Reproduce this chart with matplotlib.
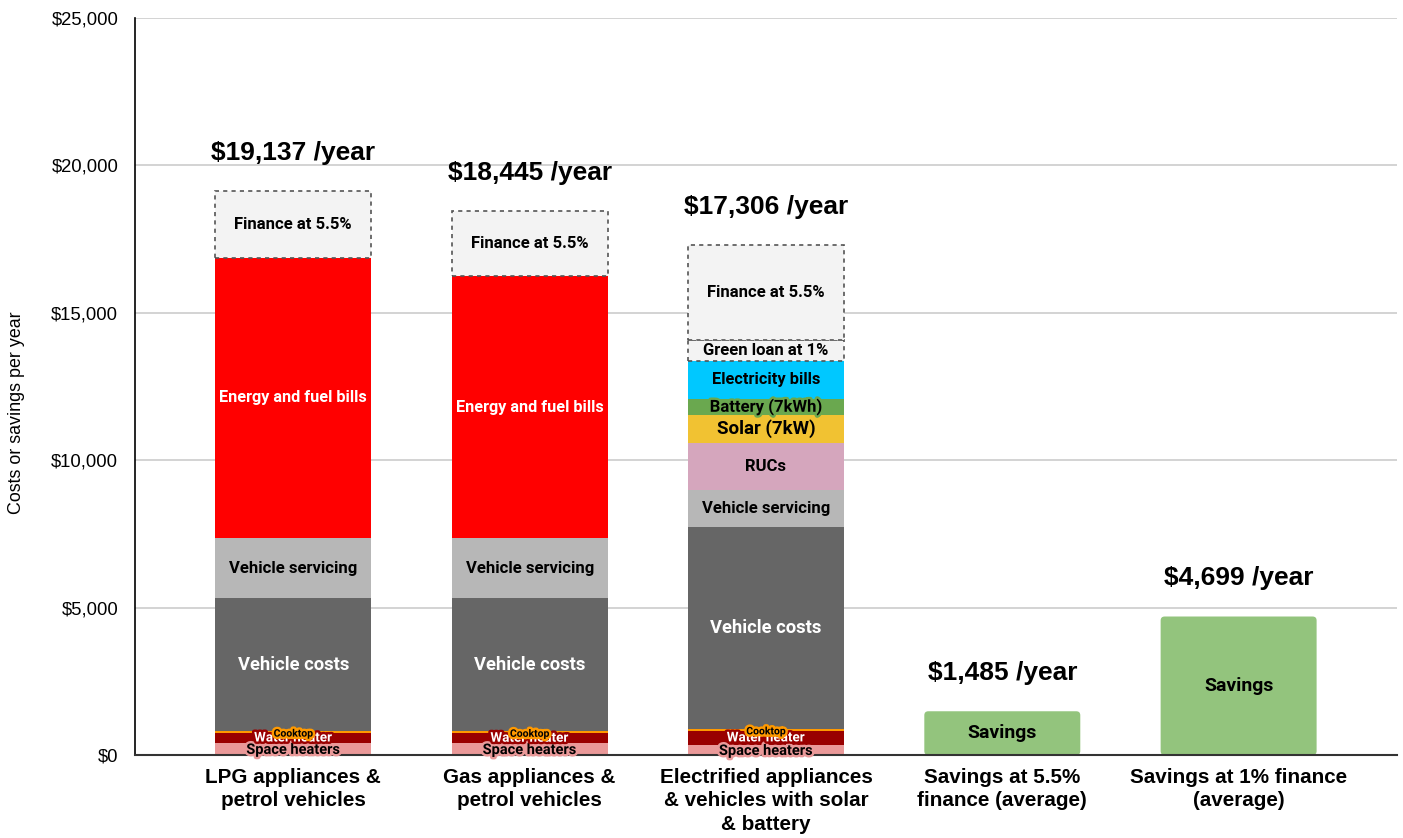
import numpy as np
import matplotlib
matplotlib.use('Agg')
import matplotlib.pyplot as plt
import matplotlib.patheffects as pe
from matplotlib.patches import FancyBboxPatch

plt.rcParams['font.family'] = ['Liberation Sans', 'DejaVu Sans']

categories = ['LPG appliances &\npetrol vehicles',
              'Gas appliances &\npetrol vehicles',
              'Electrified appliances\n& vehicles with solar\n& battery',
              'Savings at 5.5%\nfinance (average)',
              'Savings at 1% finance\n(average)']

# stacked segments, bottom to top
lpg_labels = ['Space heaters', 'Water heater', 'Cooktop', 'Vehicle costs',
              'Vehicle servicing', 'Energy and fuel bills', 'Finance at 5.5%']
lpg_values = [410, 336, 60, 4509, 2056, 9498, 2268]
gas_labels = lpg_labels
gas_values = [400, 340, 60, 4515, 2056, 8867, 2207]
elec_labels = ['Space heaters', 'Water heater', 'Cooktop', 'Vehicle costs',
               'Vehicle servicing', 'RUCs', 'Solar (7kW)', 'Battery (7kWh)',
               'Electricity bills', 'Green loan at 1%', 'Finance at 5.5%']
elec_values = [339, 485, 58, 6862, 1245, 1594, 950, 543, 1299, 702, 3229]
savings_labels = ['Savings', 'Savings']
savings_values = [1485, 4699]
totals = [19137, 18445, 17306, 1485, 4699]

# colour, text colour, font size, outline colour, dashed
seg_style = {
    'Space heaters': ('#ea9999', 'black', 10.5, '#ea9999', False),
    'Water heater': ('#990000', 'white', 9.7, '#990000', False),
    'Cooktop': ('#ff9900', 'black', 7.5, '#ff9900', False),
    'Vehicle costs': ('#666666', 'white', 13.2, None, False),
    'Vehicle servicing': ('#b7b7b7', 'black', 12, None, False),
    'Energy and fuel bills': ('#ff0000', 'white', 11.7, None, False),
    'Finance at 5.5%': ('#f3f3f3', 'black', 12, None, True),
    'RUCs': ('#d5a6bd', 'black', 12, None, False),
    'Solar (7kW)': ('#f1c232', 'black', 13.5, None, False),
    'Battery (7kWh)': ('#6aa84f', 'black', 12, '#6aa84f', False),
    'Electricity bills': ('#00c8ff', 'black', 11.8, None, False),
    'Green loan at 1%': ('#f3f3f3', 'black', 12, None, True),
    'Savings': ('#93c47d', 'black', 14, None, False),
}
# small nudges for the crowded labels at the bottom
label_shift = {'Space heaters': -30, 'Water heater': 0, 'Cooktop': -50}

stacks = [(lpg_labels, lpg_values), (gas_labels, gas_values),
          (elec_labels, elec_values),
          ([savings_labels[0]], [savings_values[0]]),
          ([savings_labels[1]], [savings_values[1]])]

fig, ax = plt.subplots(figsize=(14.03, 8.38), dpi=100)
fig.subplots_adjust(left=0.0962, right=0.9957, top=0.9785, bottom=0.099)

width = 0.66
x = np.arange(len(categories))
for xi, (labels, values) in zip(x, stacks):
    bottom = 0
    for lab, val in zip(labels, values):
        col, tcol, fs, stroke, dashed = seg_style[lab]
        if dashed:
            ax.bar(xi, val, width, bottom=bottom, color=col, edgecolor='#555555',
                   linestyle=(0, (2.5, 2.5)), linewidth=1.2, zorder=3)
        elif lab == 'Savings':
            # rounded corners on the savings bars
            r = ax.bar(xi, val, width, bottom=bottom, color=col, linewidth=0, zorder=2)[0]
            r.set_visible(False)
            ax.add_patch(FancyBboxPatch((r.get_x(), r.get_y()), r.get_width(), r.get_height(),
                                        boxstyle='round,pad=0,rounding_size=0.017',
                                        mutation_aspect=8000, color=col, linewidth=0, zorder=2))
        else:
            ax.bar(xi, val, width, bottom=bottom, color=col, linewidth=0, zorder=2)
        t = ax.text(xi, bottom + val / 2 + label_shift.get(lab, 0), lab,
                    ha='center', va='center', color=tcol, fontsize=fs,
                    fontweight='bold', family=['Roboto', 'DejaVu Sans'], zorder=5)
        if stroke:
            t.set_path_effects([pe.withStroke(linewidth=3.5, foreground=stroke)])
        bottom += val

for xi, tot in zip(x, totals):
    ax.text(xi, tot + 1300, f'${tot:,} /year', ha='center', va='center',
            fontsize=19, fontweight='bold', zorder=5)

ax.set_xlim(-0.67, 4.67)
ax.set_ylim(0, 25000)
ax.set_yticks(np.arange(0, 25001, 5000))
ax.set_yticklabels([f'${v:,}' for v in range(0, 25001, 5000)], fontsize=13.3)
ax.set_xticks(x)
ax.set_xticklabels(categories, fontsize=14.9, fontweight='bold', linespacing=1.32)
ax.tick_params(axis='y', length=0, pad=12)
ax.tick_params(axis='x', length=0, pad=9)
ax.set_ylabel('Costs or savings per year', fontsize=12.9)
ax.yaxis.set_label_coords(-0.087, 0.465)

ax.grid(axis='y', color='#cccccc', linewidth=1.2, zorder=0)
ax.set_axisbelow(True)
for s in ['top', 'right']:
    ax.spines[s].set_visible(False)
ax.spines['left'].set_color('black')
ax.spines['left'].set_linewidth(1.2)
ax.spines['bottom'].set_color('#333333')
ax.spines['bottom'].set_linewidth(1.5)

fig.savefig('out.png', dpi=100)
